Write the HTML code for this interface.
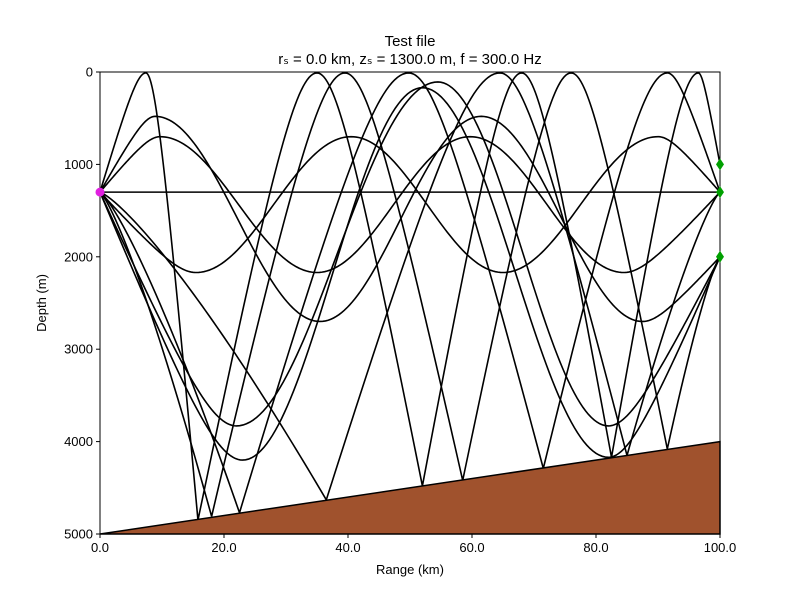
<!DOCTYPE html>
<html><head><meta charset="utf-8"><style>
body{margin:0;background:#fff}
svg text{font-family:"Liberation Sans","DejaVu Sans",sans-serif;fill:#000}
</style></head><body>
<svg id="chart" width="800" height="600" xmlns="http://www.w3.org/2000/svg">
<rect width="800" height="600" fill="#fff"/>
<text x="410" y="46" font-size="15" text-anchor="middle">Test file</text>
<text x="410" y="64" font-size="15" text-anchor="middle">rₛ = 0.0 km, zₛ = 1300.0 m, f = 300.0 Hz</text>
<g id="plot"></g>
<text x="410" y="574" font-size="13" text-anchor="middle">Range (km)</text>
<text transform="translate(46,303) rotate(-90)" font-size="13" text-anchor="middle">Depth (m)</text>
</svg>
<script>
const xTicks=[0,20,40,60,80,100];
const yTicks=[0,1000,2000,3000,4000,5000];
const bathyRange=[0,100];
const bathyDepth=[5000,4000];
const srcRange=0, srcDepth=1300;
const rcvRange=100;
const rcvDepths=[1000,1300,2000];
// rays: [range km, depth m, type] t=turning, r=reflection, n=node
const ray1=[[0,1300,'n'],[100,1300,'n']];
const ray2=[[0,1300,'n'],[9.7,700,'t'],[35,2170,'t'],[59.7,700,'t'],[84.5,2170,'t'],[100,1300,'n']];
const ray3=[[0,1300,'n'],[8.9,480,'t'],[35.5,2700,'t'],[61.5,480,'t'],[87.5,2700,'t'],[100,2000,'n']];
const ray4=[[0,1300,'n'],[15.5,2170,'t'],[40.5,700,'t'],[65,2170,'t'],[90,700,'t'],[100,1300,'n']];
const ray5=[[0,1300,'n'],[7.4,10,'t'],[15.8,4850,'r'],[35,10,'t'],[52,4480,'r'],[68,10,'t'],[82.5,4170,'r'],[96.5,10,'t'],[100,1000,'n']];
const ray6=[[0,1300,'n'],[18,4810,'r'],[39.5,10,'t'],[58.5,4420,'r'],[76,10,'t'],[91.5,4080,'r'],[100,2000,'n']];
const ray7=[[0,1300,'n'],[22.5,4770,'r'],[49.8,10,'t'],[71.5,4290,'r'],[91.5,10,'t'],[100,1300,'n']];
const ray8=[[0,1300,'n'],[23,4200,'t'],[52,170,'t'],[82,4170,'t'],[100,2000,'n']];
const ray9=[[0,1300,'n'],[22,3830,'t'],[54.5,108,'t'],[82,3830,'t'],[100,2000,'n']];
const ray10=[[0,1300,'n'],[36.5,4630,'r'],[64.5,10,'t'],[85,4150,'r'],[100,1300,'n']];
const rays=[ray1,ray2,ray3,ray4,ray5,ray6,ray7,ray8,ray9,ray10];

const X0=100,X1=720,Y0=72,Y1=534;
const sx=r=>X0+(r-0)/(100-0)*(X1-X0);
const sy=d=>Y0+(d-0)/(5000-0)*(Y1-Y0);
const NS='http://www.w3.org/2000/svg';
const plot=document.getElementById('plot');
function mk(tag,attrs){const e=document.createElementNS(NS,tag);for(const k in attrs)e.setAttribute(k,attrs[k]);return e;}

const A=3.5, HN=Math.sqrt(1+A*A)-1;
const hyp=t=>(Math.sqrt(1+(A*t)*(A*t))-1)/HN;
function shape(a,b,t,down){
  if(a==='t'&&b==='t')return (1-Math.cos(Math.PI*t))/2;
  if(a==='t')return hyp(t);
  if(b==='t')return 1-hyp(1-t);
  if(a==='n'&&b==='r')return Math.pow(t,1.25);
  if(a==='r'&&b==='n')return 1-Math.pow(1-t,1.25);
  return t;
}
const cp=mk('clipPath',{id:'clip'});cp.appendChild(mk('rect',{x:X0,y:Y0,width:X1-X0,height:Y1-Y0}));plot.appendChild(cp);
const rg=mk('g',{'clip-path':'url(#clip)'});plot.appendChild(rg);
rays.forEach((ray,i)=>{
  let d='';
  for(let k=0;k<ray.length-1;k++){
    const [r0,z0,a]=ray[k],[r1,z1,b]=ray[k+1];
    for(let s=(k===0?0:1);s<=60;s++){const t=s/60;
      const r=r0+(r1-r0)*t,z=z0+(z1-z0)*shape(a,b,t);
      d+=(d?'L':'M')+sx(r).toFixed(2)+','+sy(z).toFixed(2);}
  }
  const p=mk('path',{d:d,fill:'none',stroke:'#000','stroke-width':1.6});
  
  
  rg.appendChild(p);
});
const bp=mk('polygon',{points:`${sx(bathyRange[0])},${sy(bathyDepth[0])} ${sx(bathyRange[1])},${sy(bathyDepth[1])} ${sx(100)},${sy(5000)}`,fill:'#a0522d',stroke:'#000','stroke-width':1.5});


plot.appendChild(bp);
const frame=mk('rect',{x:X0,y:Y0,width:X1-X0,height:Y1-Y0,fill:'none',stroke:'#000','stroke-width':1});


plot.appendChild(frame);
xTicks.forEach(v=>{
  plot.appendChild(mk('line',{x1:sx(v),x2:sx(v),y1:Y1,y2:Y1+4,stroke:'#000'}));
  const t=mk('text',{x:sx(v),y:Y1+18,'font-size':13,'text-anchor':'middle'});t.textContent=v.toFixed(1);
  
  
  plot.appendChild(t);
});
yTicks.forEach(v=>{
  plot.appendChild(mk('line',{x1:X0-4,x2:X0,y1:sy(v),y2:sy(v),stroke:'#000'}));
  const t=mk('text',{x:X0-7,y:sy(v)+4.5,'font-size':13,'text-anchor':'end'});t.textContent=v;
  
  
  plot.appendChild(t);
});
const src=mk('circle',{cx:sx(srcRange),cy:sy(srcDepth),r:4.5,fill:'#e020e0'});


plot.appendChild(src);
rcvDepths.forEach(z=>{
  const x=sx(rcvRange),y=sy(z);
  const m=mk('polygon',{points:`${x},${y-6} ${x+4},${y} ${x},${y+6} ${x-4},${y}`,fill:'#00a000'});
  
  
  plot.appendChild(m);
});
</script>
</body></html>
